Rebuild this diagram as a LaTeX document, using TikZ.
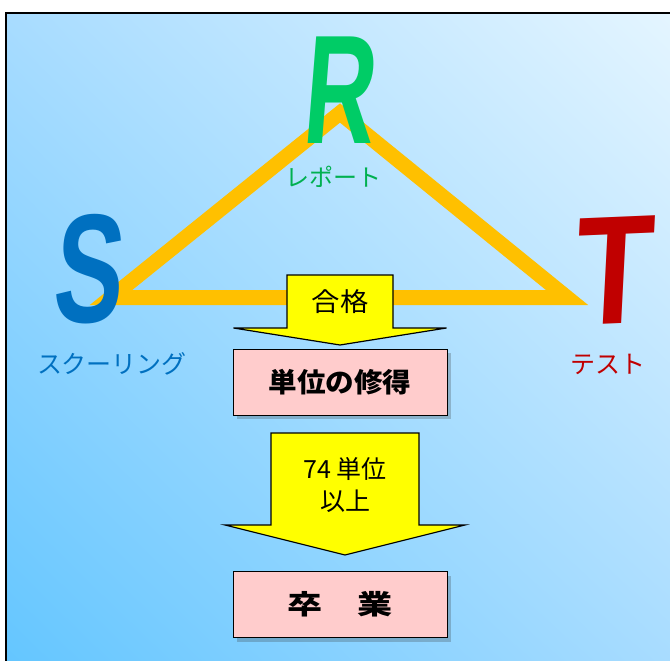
\documentclass[tikz,border=0pt]{standalone}
\usepackage{fontspec}
\setmainfont{Noto Sans CJK JP}
\newfontfamily\letterfont{Liberation Sans}
\newfontfamily\passfont[FakeStretch = 1.09]{Noto Sans CJK JP}
\newfontfamily\creditfont[FakeStretch = 1.06]{Noto Sans CJK JP}
\newfontfamily\gradfont[FakeStretch = 1.3]{Noto Sans CJK JP}
\usetikzlibrary{calc, shadings, shadows}
\definecolor{SchoolBlue}{RGB}{0,112,192}
\definecolor{SchoolGreen}{RGB}{0,204,102}
\definecolor{SchoolGreen2}{RGB}{0,176,80}
\definecolor{SchoolRed}{RGB}{192,0,0}
\definecolor{SchoolOrange}{RGB}{255,192,0}
\definecolor{SchoolYellow}{RGB}{255,255,0}
\definecolor{SchoolPink}{RGB}{255,204,204}
\definecolor{SkyDeep}{RGB}{100,198,255}
\definecolor{SkyMid}{RGB}{168,220,255}
\definecolor{SkyPale}{RGB}{228,245,255}

\begin{document}
\begin{tikzpicture}[x = 1pt, y = -1pt]%
    %
    \tikzstyle{letter} = [inner sep = 0pt, font = \letterfont\bfseries\fontsize{155}{155}\selectfont, xslant = .08]%
    \tikzstyle{caption} = [inner sep = 0pt, font = \fontsize{25}{25}\selectfont]%
    \tikzstyle{side} = [draw = SchoolOrange, line width = 15pt, line join = miter]%
    \tikzstyle{blockarrow} = [draw = black, fill = SchoolYellow, line width = 1.2pt, line join = miter]%
    \tikzstyle{stepbox} = [draw = black, fill = SchoolPink, line width = .8pt, minimum width = 214pt, minimum height = 66pt, inner sep = 0pt, drop shadow = {shadow xshift = 4pt, shadow yshift = -4pt, fill = black!80, opacity = .25}]%
    \tikzstyle{arrowtext} = [inner sep = 0pt, align = center]%
    %
    \def\blockarrow(#1)(#2:#3:#4:#5){% Syntax: (top centre) (shaft width:head width:shaft length:head length)
        \draw [blockarrow] (#1) ++(-#2/2, 0) -- ++(0, #4) -- ++(#2/2-#3/2, 0) -- ++(#3/2, #5) -- ++(#3/2, -#5) -- ++(#2/2-#3/2, 0) -- ++(0, -#4) -- cycle;%
    }%
    %
    \useasboundingbox (0, 0) rectangle (670, 661);%
    \shade [upper left = SkyMid, upper right = SkyPale, lower left = SkyDeep, lower right = SkyMid] (6, 13) rectangle (670, 661);%
    \draw [line width = 2pt] (6, 661) -- (6, 13) -- (670, 13);%
    %
    % triangle
    \coordinate (sv) at (111, 297.5);%
    \coordinate (rv) at (340, 113);%
    \coordinate (tv) at (567, 297.5);%
    \draw [side] (sv) -- (rv) -- (tv) -- cycle;%
    %
    \node [letter, text = SchoolBlue, xscale = .67] (S) at (90, 269) {S};%
    \node [letter, text = SchoolGreen, xscale = .64] (R) at (342, 90) {R};%
    \node [letter, text = SchoolRed, xscale = .82, rotate = 2] (T) at (615, 271) {T};%
    %
    \node [caption, text = SchoolBlue] (scaption) at (112, 364) {スクーリング};%
    \node [caption, text = SchoolGreen2, font = \fontsize{24}{24}\selectfont] (rcaption) at (333, 177) {レポート};%
    \node [caption, text = SchoolRed] (tcaption) at (608, 364) {テスト};%
    %
    % flow
    \blockarrow(340, 275)(106:213:53:17);%
    \node [arrowtext, font = \passfont\fontsize{26}{26}\selectfont] (pass) at (340, 302) {合格};%
    %
    \node [stepbox, font = \creditfont\bfseries\fontsize{27}{27}\selectfont] (credit) at (340, 382) {単位の修得};%
    %
    \blockarrow(345, 433)(148:240:92:30);%
    \node [arrowtext, font = \fontsize{25}{32}\selectfont] (units) at (345, 485) {74 単位\\以上};%
    %
    \node [stepbox, font = \gradfont\bfseries\fontsize{27}{27}\selectfont] (grad) at (340, 604.5) {卒　業};%
\end{tikzpicture}
\end{document}
